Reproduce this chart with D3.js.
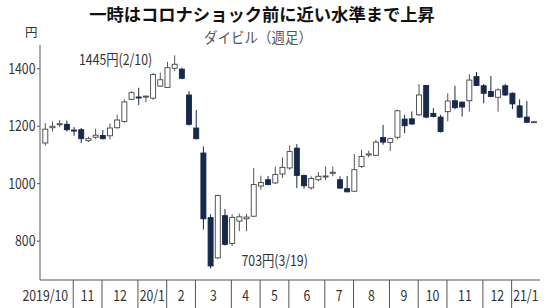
<!DOCTYPE html>
<html>
<head>
<meta charset="utf-8">
<script src="https://cdn.jsdelivr.net/npm/d3@7"></script>
<style>
    body { margin: 0; background: #fff; }
    text { font-family: "Noto Sans CJK JP", "Noto Sans", sans-serif; }
</style>
</head>
<body>
<div id="chart"></div>
<script>
// weekly candles (week starting Monday)
const weeks = [
    "2019-10-07", "2019-10-14", "2019-10-21", "2019-10-28",
    "2019-11-04", "2019-11-11", "2019-11-18", "2019-11-25",
    "2019-12-02", "2019-12-09", "2019-12-16", "2019-12-23", "2019-12-30",
    "2020-01-06", "2020-01-13", "2020-01-20", "2020-01-27",
    "2020-02-03", "2020-02-10", "2020-02-17", "2020-02-24",
    "2020-03-02", "2020-03-09", "2020-03-16", "2020-03-23", "2020-03-30",
    "2020-04-06", "2020-04-13", "2020-04-20", "2020-04-27",
    "2020-05-04", "2020-05-11", "2020-05-18", "2020-05-25",
    "2020-06-01", "2020-06-08", "2020-06-15", "2020-06-22", "2020-06-29",
    "2020-07-06", "2020-07-13", "2020-07-20", "2020-07-27",
    "2020-08-03", "2020-08-10", "2020-08-17", "2020-08-24", "2020-08-31",
    "2020-09-07", "2020-09-14", "2020-09-21", "2020-09-28",
    "2020-10-05", "2020-10-12", "2020-10-19", "2020-10-26",
    "2020-11-02", "2020-11-09", "2020-11-16", "2020-11-23", "2020-11-30",
    "2020-12-07", "2020-12-14", "2020-12-21", "2020-12-28",
    "2021-01-04", "2021-01-11", "2021-01-18", "2021-01-25"
];
const opens = [
    1140, 1193, 1205, 1205, 1185, 1186, 1148, 1160, 1166, 1165, 1193, 1215, 1292,
    1300, 1300, 1296, 1338, 1333, 1400, 1397, 1307, 1192, 1105, 880, 740, 887,
    790, 868, 876, 885, 990, 1012, 1001, 1032, 1053, 1122, 1027, 984, 1012,
    1022, 1035, 1012, 981, 972, 1058, 1098, 1097, 1159, 1142, 1160, 1223, 1224,
    1238, 1340, 1243, 1230, 1249, 1287, 1282, 1287, 1371, 1339, 1319, 1299, 1339,
    1313, 1269, 1230, 1213
];
const highs = [
    1209, 1215, 1220, 1218, 1195, 1192, 1162, 1190, 1185, 1208, 1238, 1292, 1320,
    1332, 1305, 1384, 1385, 1422, 1445, 1402, 1320, 1255, 1128, 892, 960, 910,
    892, 894, 893, 1053, 1026, 1025, 1058, 1090, 1131, 1136, 1030, 1024, 1039,
    1058, 1058, 1024, 1025, 1101, 1116, 1113, 1151, 1203, 1158, 1256, 1238, 1250,
    1345, 1342, 1261, 1238, 1313, 1339, 1285, 1380, 1387, 1345, 1373, 1330, 1345,
    1316, 1292, 1286, 1216
];
const lows = [
    1130, 1180, 1195, 1180, 1165, 1140, 1143, 1153, 1152, 1152, 1190, 1210, 1290,
    1272, 1282, 1290, 1335, 1333, 1390, 1362, 1200, 1152, 838, 703, 737, 783,
    781, 833, 833, 883, 977, 993, 997, 1018, 1047, 983, 981, 977, 1006,
    1010, 1024, 980, 968, 970, 1053, 1090, 1095, 1134, 1112, 1153, 1174, 1203,
    1234, 1226, 1229, 1176, 1215, 1257, 1232, 1249, 1338, 1278, 1299, 1249, 1303,
    1258, 1227, 1209, 1211
];
const closes = [
    1188, 1198, 1207, 1186, 1182, 1155, 1155, 1167, 1155, 1192, 1220, 1283, 1315,
    1298, 1303, 1378, 1360, 1402, 1414, 1365, 1205, 1155, 876, 712, 957, 787,
    881, 883, 882, 995, 1002, 995, 1030, 1055, 1110, 1027, 991, 1016, 1024,
    1025, 1038, 983, 970, 1047, 1093, 1102, 1143, 1143, 1155, 1252, 1200, 1206,
    1307, 1230, 1232, 1180, 1286, 1263, 1265, 1359, 1340, 1313, 1302, 1325, 1307,
    1276, 1230, 1212, 1214
];

const monthLabels = ["2019/10", "11", "12", "20/1", "2", "3", "4", "5", "6", "7", "8", "9", "10", "11", "12", "21/1"];
const yTicks = [800, 1000, 1200, 1400];

const title = "一時はコロナショック前に近い水準まで上昇";
const subtitle = "ダイビル（週足）";
const highNote = { index: 18, text: "1445円(2/10)" };
const lowNote = { index: 23, text: "703円(3/19)" };

const width = 550, height = 308;
const plotLeft = 40, plotRight = 540, plotTop = 45, plotBottom = 280;
const navy = "#16294a";
const digitScale = 0.82;

const svg = d3.select("#chart").append("svg")
    .attr("width", width)
    .attr("height", height);

// scales
const xScale = d3.scaleLinear().domain([0, weeks.length - 1]).range([45.3, 534]);
const yScale = d3.scaleLinear().domain([663, 1481]).range([plotBottom, plotTop]);

// title + subtitle
svg.append("text")
    .attr("x", 262).attr("y", 20.5)
    .attr("text-anchor", "middle")
    .attr("font-size", 17.3).attr("font-weight", "bold")
    .attr("fill", "#111")
    .text(title);

svg.append("text")
    .attr("transform", "translate(258, 42.5) scale(0.93, 1)")
    .attr("text-anchor", "middle")
    .attr("font-size", 14.5)
    .attr("fill", "#555")
    .text(subtitle);

svg.append("text")
    .attr("x", 25).attr("y", 37)
    .attr("font-size", 12.5)
    .attr("fill", "#333")
    .text("円");

// y axis
const yAxis = d3.axisLeft(yScale).tickValues(yTicks).tickSize(3).tickFormat("");
const yAxisG = svg.append("g")
    .attr("transform", `translate(${plotLeft}, 0)`)
    .call(yAxis);
yAxisG.select(".domain").attr("d", `M0,${plotTop}V${plotBottom}`).attr("stroke", "#555");
yAxisG.selectAll(".tick line").attr("stroke", "#555");

svg.selectAll(".ylabel")
    .data(yTicks)
    .enter()
    .append("text")
    .attr("class", "ylabel")
    .attr("transform", d => `translate(35.5, ${yScale(d) + 5.5}) scale(${digitScale}, 1)`)
    .attr("text-anchor", "end")
    .attr("font-size", 15)
    .attr("fill", "#333")
    .text(d => d);

// x axis line
svg.append("line")
    .attr("x1", plotLeft).attr("x2", plotRight)
    .attr("y1", plotBottom).attr("y2", plotBottom)
    .attr("stroke", "#555");

// month separators: just before the first week of each month
const sepX = [];
for (let i = 1; i < weeks.length; i++) {
    if (weeks[i].slice(0, 7) !== weeks[i - 1].slice(0, 7)) sepX.push(xScale(i) - 0.8);
}

svg.selectAll(".sep")
    .data(sepX)
    .enter()
    .append("line")
    .attr("class", "sep")
    .attr("x1", d => d).attr("x2", d => d)
    .attr("y1", plotBottom).attr("y2", height)
    .attr("stroke", "#555");

const labelX = monthLabels.map((m, k) => {
    if (k === 0) return xScale(0);
    if (k === monthLabels.length - 1) return (sepX[k - 1] + plotRight) / 2;
    return (sepX[k - 1] + sepX[k]) / 2;
});

svg.selectAll(".mlabel")
    .data(monthLabels)
    .enter()
    .append("text")
    .attr("class", "mlabel")
    .attr("transform", (d, k) => `translate(${labelX[k]}, 300.5) scale(${digitScale}, 1)`)
    .attr("text-anchor", "middle")
    .attr("font-size", 15)
    .attr("fill", "#333")
    .text(d => d);

// candles
const candles = weeks.map((w, i) => ({
    i: i, open: opens[i], high: highs[i], low: lows[i], close: closes[i]
}));
const bodyW = 5;

const candleG = svg.selectAll(".candle")
    .data(candles)
    .enter()
    .append("g")
    .attr("class", "candle");

candleG.append("line")
    .attr("x1", d => xScale(d.i)).attr("x2", d => xScale(d.i))
    .attr("y1", d => yScale(d.high)).attr("y2", d => yScale(d.low))
    .attr("stroke", d => d.close >= d.open ? "#555" : navy)
    .attr("stroke-width", 1);

candleG.append("rect")
    .attr("x", d => xScale(d.i) - bodyW / 2)
    .attr("width", bodyW)
    .attr("y", d => yScale(Math.max(d.open, d.close)))
    .attr("height", d => Math.max(1, Math.abs(yScale(d.open) - yScale(d.close))))
    .attr("fill", d => d.close >= d.open ? "#fff" : navy)
    .attr("stroke", d => d.close >= d.open ? "#444" : navy)
    .attr("stroke-width", 0.9);

// high / low notes
svg.append("text")
    .attr("transform", `translate(79, 65) scale(${digitScale}, 1)`)
    .attr("font-size", 15)
    .attr("fill", "#333")
    .text(highNote.text);

svg.append("text")
    .attr("transform", `translate(241.5, 266) scale(${digitScale}, 1)`)
    .attr("font-size", 15)
    .attr("fill", "#333")
    .text(lowNote.text);
</script>
</body>
</html>
